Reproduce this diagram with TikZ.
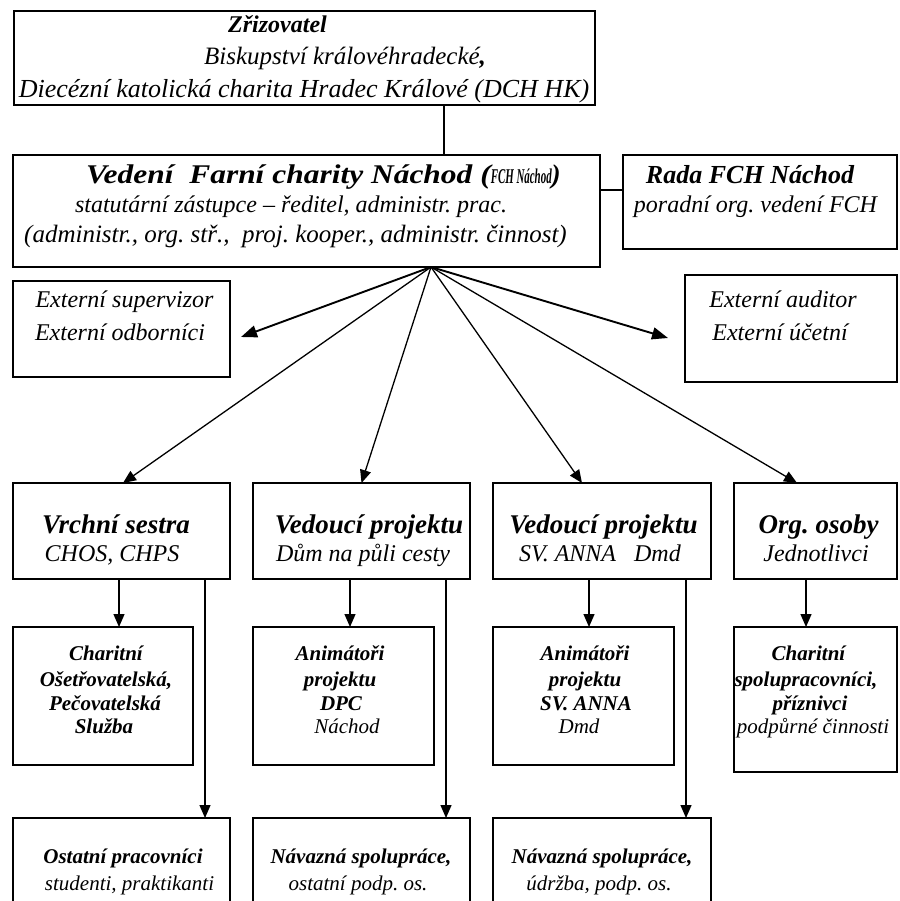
\documentclass[tikz,border=0pt]{standalone}
\usepackage{graphicx}
\usepackage{fontspec}
\setmainfont{Liberation Serif}
\usetikzlibrary{arrows.meta,calc}
\newcommand\fsz[1]{\fontsize{#1}{#1}\selectfont}
\frenchspacing
\begin{document}
\begin{tikzpicture}[x=1pt,y=-1pt,
  box/.style={draw, line width=1.8pt, inner sep=0pt, outer sep=0pt, rectangle},
  conn/.style={line width=1.6pt},
  arr/.style={line width=1.3pt, -{Triangle[length=13pt,width=11pt]}},
  sarr/.style={line width=1.9pt, -{Triangle[length=16pt,width=12pt]}},
  txt/.style={inner sep=0pt, anchor=base},
  ti/.style={txt, font=\fsz{27}\bfseries\itshape},
  it/.style={txt, font=\fsz{24}\itshape},
  sti/.style={txt, font=\fsz{21}\bfseries\itshape},
  sit/.style={txt, font=\fsz{21}\itshape}]
\useasboundingbox (0,0) rectangle (899,901);
\fill[white] (0,0) rectangle (899,901);
\clip (0,0) rectangle (899,901);

% boxes
\node[box, minimum width=581pt, minimum height=94pt] (top) at (304.5,58) {};
\node[box, minimum width=587pt, minimum height=112pt] (ved) at (306.5,211) {};
\node[box, minimum width=274pt, minimum height=94pt] (rada) at (760,202) {};
\node[box, minimum width=217pt, minimum height=96pt] (es) at (121.5,329) {};
\node[box, minimum width=212pt, minimum height=107pt] (ea) at (791,328.5) {};
\node[box, minimum width=217pt, minimum height=96pt] (b1) at (121.5,531) {};
\node[box, minimum width=217pt, minimum height=96pt] (b2) at (361.5,531) {};
\node[box, minimum width=218pt, minimum height=96pt] (b3) at (602,531) {};
\node[box, minimum width=163pt, minimum height=96pt] (b4) at (815.5,531) {};
\node[box, minimum width=180pt, minimum height=138pt] (c1) at (103,696) {};
\node[box, minimum width=181pt, minimum height=138pt] (c2) at (343.5,696) {};
\node[box, minimum width=181pt, minimum height=138pt] (c3) at (583.5,696) {};
\node[box, minimum width=163pt, minimum height=145pt] (c4) at (815.5,699.5) {};
\node[box, minimum width=217pt, minimum height=107pt] (d1) at (121.5,871.5) {};
\node[box, minimum width=217pt, minimum height=107pt] (d2) at (361.5,871.5) {};
\node[box, minimum width=218pt, minimum height=107pt] (d3) at (602,871.5) {};

% texts
\node[txt, font=\fsz{24}\bfseries\itshape] (t1) at (277.5,33) {Zřizovatel};
\node[it, font=\fsz{25}\itshape] (t2) at (345,65) {Biskupství královéhradecké{\bfseries ,}};
\node[it, font=\fsz{26}\itshape] (t3) at (304,97.5) {Diecézní katolická charita Hradec Králové (DCH HK)};
\node[txt, anchor=base west, font=\fsz{27}\bfseries\itshape] (v1) at (86,184) {\scalebox{1.165}[1]{Vedení\ \ Farní charity Náchod (}\scalebox{0.52}[1]{\fsz{21}FCH Náchod})};
\node[it] (v2) at (291,213) {statutární zástupce – ředitel, administr. prac.};
\node[it, font=\fsz{25}\itshape] (v3) at (295.5,242) {(administr., org. stř.,\ \ proj. kooper., administr. činnost)};
\node[ti, font=\fsz{26}\bfseries\itshape] (r1) at (750,184) {Rada FCH Náchod};
\node[it] (r2) at (755.5,213) {poradní org. vedení FCH};
\node[it] (e1) at (124.5,307) {Externí supervizor};
\node[it] (e2) at (120,340) {Externí odborníci};
\node[it] (e3) at (783,307) {Externí auditor};
\node[it] (e4) at (780,340) {Externí účetní};
\node[ti] (s1) at (116,533) {Vrchní sestra};
\node[it] (s2) at (112,561) {CHOS, CHPS};
\node[ti] (s3) at (369,533) {Vedoucí projektu};
\node[it] (s4) at (363,561) {Dům na půli cesty};
\node[ti] (s5) at (603.5,533) {Vedoucí projektu};
\node[it] (s6) at (600,561) {SV. ANNA\ \ \ Dmd};
\node[ti] (s7) at (818.5,533) {Org. osoby};
\node[it] (s8) at (816,561) {Jednotlivci};
\node[sti] (p1) at (106,660) {Charitní};
\node[sti] (p2) at (106,686.5) {Ošetřovatelská,};
\node[sti] (p3) at (105,710) {Pečovatelská};
\node[sti] (p4) at (104,733) {Služba};
\node[sti] (q1) at (340,660) {Animátoři};
\node[sti] (q2) at (340,686.5) {projektu};
\node[sti] (q3) at (341,710) {DPC};
\node[sit] (q4) at (347,733) {Náchod};
\node[sti] (u1) at (585,660) {Animátoři};
\node[sti] (u2) at (585,686.5) {projektu};
\node[sti] (u3) at (586,710) {SV. ANNA};
\node[sit] (u4) at (579,733) {Dmd};
\node[sti] (w1) at (808.5,660) {Charitní};
\node[sti] (w2) at (806,686.5) {spolupracovníci,};
\node[sti] (w3) at (810,710) {příznivci};
\node[sit] (w4) at (813,733) {podpůrné činnosti};
\node[sti] (o1) at (123,863) {Ostatní pracovníci};
\node[sit] (o2) at (129.5,890) {studenti, praktikanti};
\node[sti] (n1) at (361,863) {Návazná spolupráce,};
\node[sit] (n2) at (358,890) {ostatní podp. os.};
\node[sti] (m1) at (602,863) {Návazná spolupráce,};
\node[sit] (m2) at (599,890) {údržba, podp. os.};

% connectors
\coordinate (vx) at (444,0);
\coordinate (hy) at (0,190);
\coordinate (hub) at (431,267);
\draw[conn] (vx |- top.south) -- (vx |- ved.north);
\draw[conn] (ved.east |- hy) -- (rada.west |- hy);
\coordinate (tes) at ($(es.east)+(11,8)$);
\coordinate (tea) at ($(ea.west)+(-17,9.5)$);
\draw[sarr] (hub) -- (tes);
\draw[sarr] (hub) -- (tea);
\draw[arr] (hub) -- ([xshift=1.5pt]b1.north);
\draw[arr] (hub) -- (b2.north);
\draw[arr] (hub) -- ([xshift=-20pt]b3.north);
\draw[arr] (hub) -- ([xshift=-18.5pt]b4.north);
\coordinate (x1) at (119,0);
\coordinate (x2) at (350,0);
\coordinate (x3) at (589,0);
\coordinate (x4) at (806,0);
\coordinate (y1) at (205,0);
\coordinate (y2) at (446,0);
\coordinate (y3) at (686,0);
\draw[arr] (x1 |- b1.south) -- (x1 |- c1.north);
\draw[arr] (x2 |- b2.south) -- (x2 |- c2.north);
\draw[arr] (x3 |- b3.south) -- (x3 |- c3.north);
\draw[arr] (x4 |- b4.south) -- (x4 |- c4.north);
\draw[arr] (y1 |- b1.south) -- (y1 |- d1.north);
\draw[arr] (y2 |- b2.south) -- (y2 |- d2.north);
\draw[arr] (y3 |- b3.south) -- (y3 |- d3.north);
\end{tikzpicture}
\end{document}
